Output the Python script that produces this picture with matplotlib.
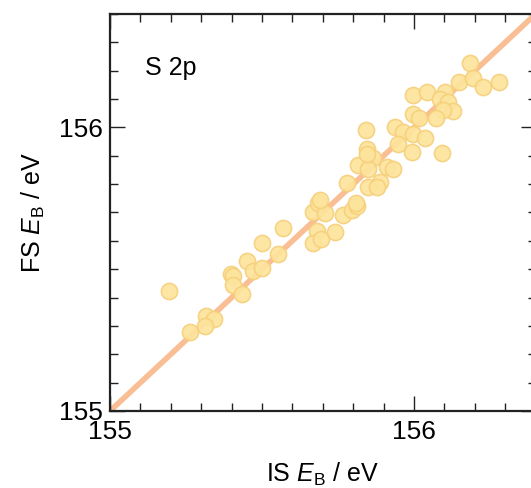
import matplotlib.pyplot as plt
from matplotlib.ticker import MultipleLocator

plt.rcParams['font.family'] = ['Liberation Sans', 'DejaVu Sans']
plt.rcParams['mathtext.fontset'] = 'custom'
plt.rcParams['mathtext.rm'] = 'Liberation Sans'
plt.rcParams['mathtext.it'] = 'Liberation Sans:italic'

# Data: initial-state vs final-state binding energies (eV)
is_eb = [155.194, 155.263, 155.316, 155.343, 155.314, 155.397, 155.406, 155.406,
         155.434, 155.452, 155.471, 155.500, 155.499, 155.554, 155.569, 155.667,
         155.685, 155.707, 155.682, 155.669, 155.694, 155.740, 155.765, 155.795,
         155.811, 156.184, 156.149, 156.195, 156.228, 156.281, 155.998, 156.042,
         156.102, 156.086, 156.113, 156.127, 156.096, 156.072, 155.998, 156.018,
         155.938, 155.965, 155.998, 156.036, 155.946, 155.992, 156.093, 155.841,
         155.844, 155.864, 155.817, 155.850, 155.910, 155.930, 155.778, 155.888,
         155.850, 155.877, 155.691, 155.809, 155.845]
fs_eb = [155.423, 155.277, 155.335, 155.326, 155.299, 155.482, 155.475, 155.444,
         155.413, 155.529, 155.494, 155.504, 155.593, 155.553, 155.644, 155.701,
         155.733, 155.698, 155.635, 155.594, 155.606, 155.631, 155.690, 155.708,
         155.722, 156.226, 156.160, 156.175, 156.144, 156.160, 156.116, 156.124,
         156.124, 156.099, 156.089, 156.057, 156.060, 156.034, 156.048, 156.033,
         156.001, 155.983, 155.978, 155.962, 155.940, 155.913, 155.909, 155.992,
         155.925, 155.892, 155.866, 155.852, 155.860, 155.855, 155.804, 155.807,
         155.790, 155.790, 155.743, 155.733, 155.908]
diag = [155.0, 156.4]

fig = plt.figure(figsize=(5.31, 4.88), dpi=100)
ax = fig.add_axes([0.2072, 0.1578, 0.8015, 0.8135])

ax.plot(diag, diag, color='#F9BE94', lw=4.0, solid_capstyle='butt', zorder=1)
ax.scatter(is_eb, fs_eb, s=135, facecolor='#FDE49C', edgecolor='#F6D07C',
           linewidth=1.2, alpha=0.92, zorder=2)

ax.text(155.115, 156.21, 'S 2p', fontsize=18, va='center', ha='left')

ax.set_xlim(155, 156.4)
ax.set_ylim(155, 156.4)
ax.xaxis.set_major_locator(MultipleLocator(1))
ax.yaxis.set_major_locator(MultipleLocator(1))
ax.xaxis.set_minor_locator(MultipleLocator(0.1))
ax.yaxis.set_minor_locator(MultipleLocator(0.1))
ax.tick_params(which='both', direction='in', top=True, right=True,
               labelsize=19, width=1.0, color='#222222')
ax.tick_params(which='major', length=11)
ax.tick_params(which='minor', length=5.5)
ax.tick_params(axis='x', pad=6.5)
ax.tick_params(axis='y', pad=5.5)
for sp in ax.spines.values():
    sp.set_linewidth(1.6)
    sp.set_color('#222222')

ax.set_xlabel(r'IS $E_\mathrm{B}$ / eV', fontsize=18, labelpad=12)
ax.set_ylabel(r'FS $E_\mathrm{B}$ / eV', fontsize=18, labelpad=8)

fig.savefig('out.png', dpi=100)
